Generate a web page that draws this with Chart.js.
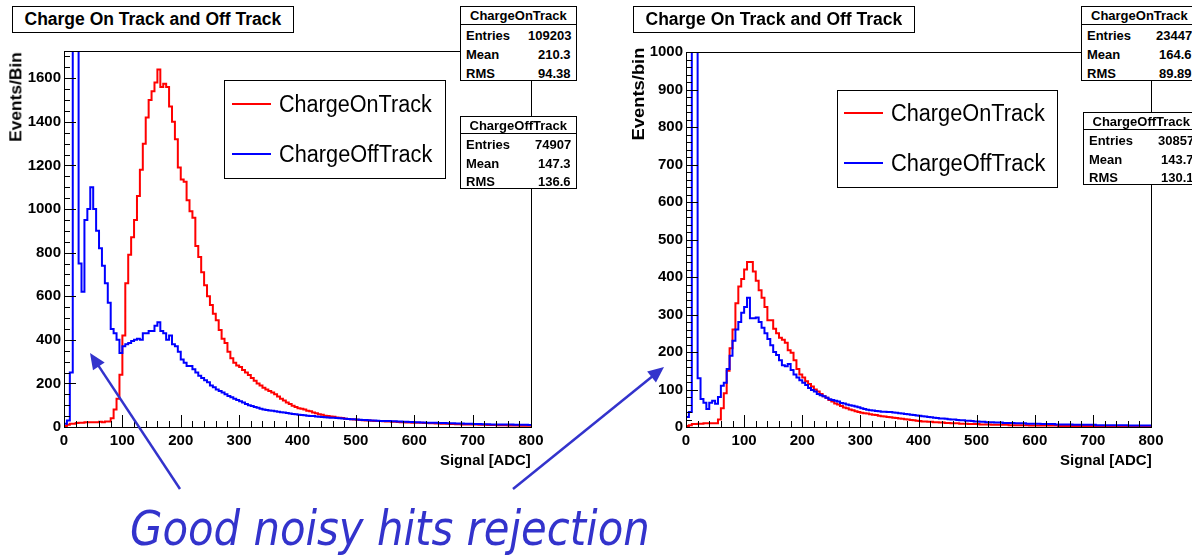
<!DOCTYPE html>
<html>
<head>
<meta charset="utf-8">
<script src="https://cdn.jsdelivr.net/npm/chart.js@4.4.1/dist/chart.umd.min.js"></script>
<style>
  html, body { margin: 0; padding: 0; background: #fff; overflow: hidden; }
  #stage { position: relative; width: 1192px; height: 556px; overflow: hidden; font-family: "Liberation Sans", Arial, sans-serif; }
  canvas { position: absolute; top: 0; }
  .box { position: absolute; background: #fff; border: 1px solid #000; box-sizing: border-box; }
  .sep { position: absolute; left: 0; right: 0; border-top: 1px solid #000; }
  .txt { position: absolute; white-space: nowrap; transform-origin: 0 50%; }
  .key { position: absolute; height: 2px; }
  svg { position: absolute; left: 0; top: 0; }
</style>
</head>
<body>
<div id="stage">
  <canvas id="leftChart" width="596" height="556" style="left:0"></canvas>
  <canvas id="rightChart" width="596" height="556" style="left:596px"></canvas>
</div>
<script>
// histogram binning (ADC)
const binWidth = 5;
const xRange = [0, 800];
const xTickStep = 100, xMinorStep = 20;

// left panel y axis
const leftYMax = 1725, leftYStep = 200, leftYMinor = 50;
// right panel y axis
const rightYMax = 1000, rightYStep = 100, rightYMinor = 20;

const seriesNames = ['ChargeOnTrack', 'ChargeOffTrack'];
const seriesColors = ['#ff0000', '#0000ff'];

// left panel, events per 5 ADC bin
const leftOnTrack = [
  5, 10, 15, 15, 18, 20, 20, 22, 22, 22,
  22, 22, 24, 22, 25, 25, 40, 80, 130, 240,
  420, 660, 790, 870, 950, 1060, 1180, 1300, 1420, 1500,
  1540, 1580, 1640, 1560, 1575, 1560, 1470, 1400, 1320, 1190,
  1135, 1125, 1040, 990, 960, 830, 780, 710, 650, 600,
  560, 520, 490, 445, 405, 385, 345, 315, 295, 282,
  275, 262, 250, 238, 225, 212, 200, 190, 180, 172,
  165, 158, 150, 140, 130, 122, 112, 105, 98, 92,
  86, 84, 80, 74, 72, 66, 63, 58, 56, 52,
  50, 48, 47, 44, 42, 41, 38, 37, 35, 34,
  33, 32, 31, 30, 30, 29, 28, 28, 27, 26,
  25, 25, 24, 24, 23, 22, 22, 21, 21, 20,
  20, 19, 19, 18, 18, 17, 17, 16, 16, 15,
  15, 15, 14, 14, 13, 13, 12, 12, 12, 11,
  11, 11, 10, 10, 10, 9, 9, 9, 8, 8,
  8, 8, 7, 7, 7, 7, 6, 6, 6, 6
];
const leftOffTrack = [
  15, 30, 250, 2600, 2600, 750, 620, 950, 1000, 1100,
  1000, 900, 820, 740, 660, 570, 450, 430, 400, 340,
  370, 380, 385, 395, 400, 405, 400, 430, 430, 440,
  440, 465, 480, 440, 430, 400, 420, 380, 370, 345,
  310, 295, 280, 280, 265, 250, 235, 225, 215, 205,
  190, 182, 172, 165, 158, 150, 142, 136, 130, 124,
  118, 112, 106, 100, 96, 92, 88, 84, 80, 78,
  76, 74, 72, 70, 68, 66, 64, 62, 60, 58,
  56, 55, 54, 52, 51, 50, 48, 47, 46, 45,
  44, 43, 42, 41, 40, 39, 38, 37, 36, 35,
  34, 33, 32, 32, 31, 30, 30, 29, 28, 28,
  27, 27, 26, 26, 25, 25, 24, 24, 23, 23,
  22, 22, 21, 21, 20, 20, 19, 19, 18, 18,
  18, 17, 17, 17, 16, 16, 16, 15, 15, 15,
  14, 14, 14, 13, 13, 13, 12, 12, 12, 12,
  11, 11, 11, 11, 10, 10, 10, 10, 10, 9
];

// right panel, events per 5 ADC bin
const rightOnTrack = [
  3, 5, 8, 8, 9, 9, 10, 10, 10, 10,
  10, 20, 50, 90, 150, 210, 260, 330, 375, 395,
  420, 440, 440, 415, 390, 365, 345, 320, 285, 285,
  262, 250, 238, 233, 225, 205, 198, 178, 155, 140,
  132, 122, 115, 108, 100, 95, 88, 82, 78, 72,
  68, 63, 60, 56, 52, 50, 47, 45, 42, 40,
  38, 37, 36, 34, 33, 32, 30, 29, 28, 27,
  26, 25, 24, 23, 22, 21, 20, 19, 18, 17,
  16, 15, 15, 14, 14, 13, 13, 12, 12, 11,
  11, 10, 10, 10, 9, 9, 9, 8, 8, 8,
  8, 7, 7, 7, 7, 6, 6, 6, 6, 6,
  6, 5, 5, 5, 5, 5, 5, 5, 4, 4,
  4, 4, 4, 4, 4, 4, 4, 4, 3, 3,
  3, 3, 3, 3, 3, 3, 3, 3, 3, 3,
  3, 3, 3, 3, 2, 2, 2, 2, 2, 2,
  2, 2, 2, 2, 2, 2, 2, 2, 2, 2
];
const rightOffTrack = [
  27, 40, 1800, 1800, 130, 75, 65, 48, 65, 70,
  62, 80, 110, 118, 155, 190, 230, 260, 280, 305,
  320, 345, 290, 290, 292, 280, 265, 250, 235, 218,
  200, 192, 178, 165, 162, 168, 152, 140, 132, 125,
  118, 112, 104, 99, 95, 88, 85, 82, 78, 74,
  72, 70, 68, 64, 63, 60, 58, 57, 55, 53,
  50, 48, 46, 45, 44, 43, 42, 41, 41, 40,
  40, 39, 38, 37, 36, 35, 34, 33, 32, 31,
  30, 29, 28, 27, 26, 25, 24, 23, 23, 22,
  21, 20, 20, 19, 18, 18, 17, 17, 16, 15,
  15, 14, 14, 13, 13, 13, 12, 12, 12, 11,
  11, 11, 11, 10, 10, 10, 10, 9, 9, 9,
  9, 9, 8, 8, 8, 8, 8, 7, 7, 7,
  7, 7, 7, 6, 6, 6, 6, 6, 6, 6,
  6, 5, 5, 5, 5, 5, 5, 5, 5, 5,
  5, 5, 4, 4, 4, 4, 4, 4, 4, 4
];

// stat box contents
const leftStatsOn = [['Entries', '109203'], ['Mean', '210.3'], ['RMS', '94.38']];
const leftStatsOff = [['Entries', '74907'], ['Mean', '147.3'], ['RMS', '136.6']];
const rightStatsOn = [['Entries', '23447'], ['Mean', '164.6'], ['RMS', '89.89']];
const rightStatsOff = [['Entries', '30857'], ['Mean', '143.7'], ['RMS', '130.1']];

const plotTitle = 'Charge On Track and Off Track';
const xTitle = 'Signal [ADC]';
const caption = 'Good noisy hits rejection';

// bin low edges + closing point for a step-before line
function toSteps(values) {
  const pts = values.map((v, i) => ({ x: xRange[0] + i * binWidth, y: v }));
  pts.push({ x: xRange[0] + values.length * binWidth, y: values[values.length - 1] });
  return pts;
}

// ROOT style frame with inward major/minor ticks
const rootFrame = {
  id: 'rootFrame',
  afterDatasetsDraw(chart, args, opts) {
    const { ctx, chartArea: a } = chart;
    const x = chart.scales.x, y = chart.scales.y;
    ctx.save();
    ctx.strokeStyle = '#000';
    ctx.lineWidth = 1;
    ctx.beginPath();
    for (let i = 0; x.min + i * opts.xMinor <= x.max; i++) {
      const v = x.min + i * opts.xMinor;
      const px = Math.round(x.getPixelForValue(v)) + 0.5;
      const len = v % opts.xMajor === 0 ? 12 : 6;
      ctx.moveTo(px, a.bottom);
      ctx.lineTo(px, a.bottom - len);
    }
    for (let i = 0; y.min + i * opts.yMinor <= y.max; i++) {
      const v = y.min + i * opts.yMinor;
      const py = Math.round(y.getPixelForValue(v)) + 0.5;
      const len = v % opts.yMajor === 0 ? 12 : 6;
      ctx.moveTo(a.left, py);
      ctx.lineTo(a.left + len, py);
    }
    ctx.stroke();
    ctx.strokeRect(Math.round(a.left) + 0.5, Math.round(a.top) + 0.5,
      Math.round(a.right - a.left), Math.round(a.bottom - a.top));
    ctx.restore();
  }
};

const tickFont = { family: '"Liberation Sans", Arial, sans-serif', size: 15, weight: 'bold' };
const plainNumber = v => String(v);

function makeChart(id, onData, offData, yMax, yStep, yMinor, pad, yWidth) {
  return new Chart(document.getElementById(id), {
    type: 'line',
    data: {
      datasets: [
        { label: seriesNames[0], data: toSteps(onData), stepped: 'before', borderColor: seriesColors[0], borderWidth: 2, pointRadius: 0, fill: false, order: 2 },
        { label: seriesNames[1], data: toSteps(offData), stepped: 'before', borderColor: seriesColors[1], borderWidth: 2, pointRadius: 0, fill: false, order: 1 }
      ]
    },
    options: {
      responsive: false,
      animation: false,
      events: [],
      layout: { padding: pad },
      plugins: {
        legend: { display: false },
        tooltip: { enabled: false },
        rootFrame: { xMajor: xTickStep, xMinor: xMinorStep, yMajor: yStep, yMinor: yMinor }
      },
      scales: {
        x: {
          type: 'linear', min: xRange[0], max: xRange[1],
          grid: { display: false, drawTicks: false },
          border: { display: false },
          ticks: { stepSize: xTickStep, font: tickFont, color: '#000', padding: 5, maxRotation: 0, autoSkip: false, includeBounds: false, callback: plainNumber },
          afterFit(scale) { scale.height = 30; }
        },
        y: {
          type: 'linear', min: 0, max: yMax,
          grid: { display: false, drawTicks: false },
          border: { display: false },
          ticks: { stepSize: yStep, font: tickFont, color: '#000', padding: 3, autoSkip: false, includeBounds: false, callback: plainNumber },
          afterFit(scale) { scale.width = yWidth; }
        }
      }
    },
    plugins: [rootFrame]
  });
}

makeChart('leftChart', leftOnTrack, leftOffTrack, leftYMax, leftYStep, leftYMinor,
  { left: 0, right: 65, top: 51, bottom: 99 }, 64);
makeChart('rightChart', rightOnTrack, rightOffTrack, rightYMax, rightYStep, rightYMinor,
  { left: 30, right: 41, top: 52, bottom: 99 }, 60);

// ---- overlays (title, stats, legend, axis titles, arrows, caption) ----
const stage = document.getElementById('stage');

function addBox(x, y, w, h) {
  const d = document.createElement('div');
  d.className = 'box';
  Object.assign(d.style, { left: x + 'px', top: y + 'px', width: w + 'px', height: h + 'px' });
  stage.appendChild(d);
  return d;
}

function addText(str, o) {
  const s = document.createElement('span');
  s.className = 'txt';
  s.textContent = str;
  s.style.font = `${o.style || 'normal'} ${o.weight || 'normal'} ${o.size}px/${o.size}px ${o.family || '"Liberation Sans", Arial, sans-serif'}`;
  s.style.color = o.color || '#000';
  stage.appendChild(s);
  const nat = s.offsetWidth;
  const w = o.w || nat;
  const k = w / nat;
  s.style.top = (o.cy - o.size / 2) + 'px';
  if (o.rotate) {
    s.style.left = (o.x - nat / 2) + 'px';
    s.style.transformOrigin = '50% 50%';
    s.style.transform = `rotate(-90deg) scaleX(${k})`;
  } else {
    let left = o.x;
    if (o.align === 'center') left = o.x - w / 2;
    if (o.align === 'right') left = o.x - w;
    s.style.left = left + 'px';
    s.style.transform = `scaleX(${k})`;
  }
  return s;
}

function titleBox(x, y, w, h, textW) {
  addBox(x, y, w, h);
  addText(plotTitle, { x: x + w / 2, cy: y + 13.7, size: 17.5, weight: 'bold', w: textW, align: 'center' });
}

function statBox(x, y, w, h, headH, name, rows) {
  const b = addBox(x, y, w, h);
  const sep = document.createElement('div');
  sep.className = 'sep';
  sep.style.top = (headH - 1) + 'px';
  b.appendChild(sep);
  addText(name, { x: x + w / 2, cy: y + headH / 2 + 0.5, size: 13, weight: 'bold', align: 'center' });
  const rowH = (h - headH) / 3;
  rows.forEach((r, i) => {
    const cy = y + headH + 2 + (i + 0.5) * rowH;
    addText(r[0], { x: x + 6, cy: cy, size: 13, weight: 'bold' });
    addText(r[1], { x: x + w - 6, cy: cy, size: 13, weight: 'bold', align: 'right' });
  });
}

function legendBox(x, y, w, h, lineX, textX, cys, textW) {
  addBox(x, y, w, h);
  seriesNames.forEach((n, i) => {
    const k = document.createElement('div');
    k.className = 'key';
    Object.assign(k.style, { left: lineX + 'px', top: (cys[i] - 1) + 'px', width: '39px', background: seriesColors[i] });
    stage.appendChild(k);
    addText(n, { x: textX, cy: cys[i], size: 23, w: textW });
  });
}

// left panel
titleBox(12, 6, 282, 27, 257);
statBox(460, 6, 117, 75, 18, seriesNames[0], leftStatsOn);
statBox(460, 116, 117, 73, 17, seriesNames[1], leftStatsOff);
legendBox(224, 80, 222, 99, 232, 279, [104, 154], 153);
addText('Events/Bin', { x: 16.5, cy: 97, size: 16, weight: 'bold', w: 90, rotate: true });
addText(xTitle, { x: 531, cy: 459, size: 15, weight: 'bold', w: 91, align: 'right' });

// right panel
titleBox(633, 6, 282, 27, 257);
statBox(1081, 6, 117, 75, 18, seriesNames[0], rightStatsOn);
statBox(1083, 112, 117, 73, 17, seriesNames[1], rightStatsOff);
legendBox(837, 90, 221, 98, 844, 891, [113, 163], 154);
addText('Events/bin', { x: 639, cy: 93.5, size: 16, weight: 'bold', w: 93, rotate: true });
addText(xTitle, { x: 1152, cy: 459, size: 15, weight: 'bold', w: 92, align: 'right' });

// arrows pointing at the noise peaks
const svgNS = 'http://www.w3.org/2000/svg';
const svg = document.createElementNS(svgNS, 'svg');
svg.setAttribute('width', 1192);
svg.setAttribute('height', 556);
stage.appendChild(svg);
const arrowColor = '#3333cc';

function arrow(x1, y1, x2, y2) {
  const L = Math.hypot(x2 - x1, y2 - y1);
  const ux = (x2 - x1) / L, uy = (y2 - y1) / L;
  const hl = 16, hw = 7;
  const bx = x2 - ux * hl, by = y2 - uy * hl;
  const ln = document.createElementNS(svgNS, 'line');
  ln.setAttribute('x1', x1); ln.setAttribute('y1', y1);
  ln.setAttribute('x2', bx + ux * 2); ln.setAttribute('y2', by + uy * 2);
  ln.setAttribute('stroke', arrowColor);
  ln.setAttribute('stroke-width', 2.5);
  svg.appendChild(ln);
  const head = document.createElementNS(svgNS, 'polygon');
  head.setAttribute('points', `${x2},${y2} ${bx - uy * hw},${by + ux * hw} ${bx + uy * hw},${by - ux * hw}`);
  head.setAttribute('fill', arrowColor);
  svg.appendChild(head);
}
arrow(180, 489, 90, 353);
arrow(513, 489, 664, 367);

addText(caption, { x: 129.5, cy: 527.5, size: 48, style: 'italic', family: '"DejaVu Sans", sans-serif', color: arrowColor, w: 520 });
</script>
</body>
</html>
